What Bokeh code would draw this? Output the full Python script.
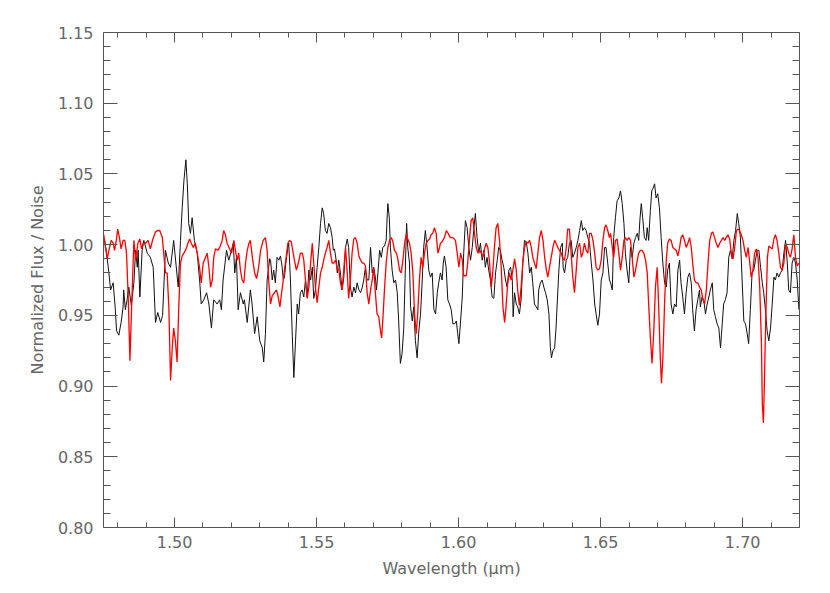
from bokeh.plotting import figure
from bokeh.models import (LinearAxis, FixedTicker, Range1d,
                          CustomJSTickFormatter, PrintfTickFormatter)
from bokeh.embed import file_html
from bokeh.resources import INLINE

# ---- axis ranges / ticks / labels ----
x_limits = [1.475, 1.72]
y_limits = [0.80, 1.15]
x_major = [1.50, 1.55, 1.60, 1.65, 1.70]
x_minor = [1.48, 1.49, 1.51, 1.52, 1.53, 1.54, 1.56, 1.57, 1.58, 1.59,
           1.61, 1.62, 1.63, 1.64, 1.66, 1.67, 1.68, 1.69, 1.71, 1.72]
y_major = [0.80, 0.85, 0.90, 0.95, 1.00, 1.05, 1.10, 1.15]
y_minor = [0.81, 0.82, 0.83, 0.84, 0.86, 0.87, 0.88, 0.89, 0.91, 0.92,
           0.93, 0.94, 0.96, 0.97, 0.98, 0.99, 1.01, 1.02, 1.03, 1.04,
           1.06, 1.07, 1.08, 1.09, 1.11, 1.12, 1.13, 1.14]
x_title = "Wavelength (μm)"
y_title = "Normalized Flux / Noise"

# ---- observed spectrum (black) ----
black_wl = [
    1.4754, 1.4761, 1.4769, 1.4775, 1.4784, 1.4791, 1.4796, 1.4804, 1.4812, 1.4819,
    1.4821, 1.4827, 1.4833, 1.4839, 1.4848, 1.4857, 1.4863, 1.4869, 1.4872, 1.4878,
    1.4886, 1.4892, 1.4904, 1.4915, 1.4925, 1.4933, 1.4941, 1.4951, 1.4958, 1.4968,
    1.4978, 1.4986, 1.4997, 1.5013, 1.5021, 1.5027, 1.5033, 1.5040, 1.5045, 1.5050,
    1.5056, 1.5062, 1.5070, 1.5080, 1.5089, 1.5094, 1.5103, 1.5113, 1.5121, 1.5130,
    1.5138, 1.5150, 1.5159, 1.5165, 1.5171, 1.5183, 1.5191, 1.5207, 1.5212, 1.5218,
    1.5224, 1.5232, 1.5242, 1.5246, 1.5256, 1.5267, 1.5273, 1.5282, 1.5291, 1.5300,
    1.5309, 1.5314, 1.5320, 1.5326, 1.5335,
    1.5338, 1.5344, 1.5349, 1.5355, 1.5361, 1.5367, 1.5373, 1.5379, 1.5383, 1.5387,
    1.5393, 1.5399, 1.5402, 1.5408, 1.5414, 1.5420, 1.5426, 1.5432, 1.5437, 1.5443,
    1.5449, 1.5455, 1.5461, 1.5467, 1.5473, 1.5479, 1.5485, 1.5490, 1.5496, 1.5502,
    1.5508, 1.5514, 1.5520, 1.5525, 1.5531, 1.5537, 1.5543, 1.5549, 1.5555, 1.5559,
    1.5563, 1.5569, 1.5573, 1.5578, 1.5584, 1.5590, 1.5596, 1.5602, 1.5608, 1.5613,
    1.5619, 1.5625, 1.5631, 1.5637, 1.5643, 1.5649, 1.5655, 1.5661, 1.5666, 1.5672,
    1.5678, 1.5684, 1.5690, 1.5696, 1.5701, 1.5707, 1.5711, 1.5716, 1.5722, 1.5728,
    1.5733, 1.5739, 1.5745, 1.5749, 1.5751, 1.5756, 1.5760, 1.5766, 1.5772, 1.5778,
    1.5784, 1.5789, 1.5795, 1.5801, 1.5807, 1.5813, 1.5817, 1.5821, 1.5827, 1.5831,
    1.5837, 1.5842, 1.5848, 1.5854, 1.5860, 1.5866, 1.5872, 1.5877, 1.5883, 1.5889,
    1.5895, 1.5901, 1.5907, 1.5913, 1.5919, 1.5925, 1.5930,
    1.5936, 1.5942, 1.5946, 1.5950, 1.5956, 1.5962, 1.5968, 1.5974, 1.5980, 1.5986,
    1.5992, 1.5997, 1.6001, 1.6007, 1.6013, 1.6018, 1.6024, 1.6030, 1.6036, 1.6042,
    1.6048, 1.6053, 1.6059, 1.6065, 1.6071, 1.6077, 1.6083, 1.6089, 1.6094, 1.6100,
    1.6106, 1.6112, 1.6118, 1.6124, 1.6130, 1.6136, 1.6141, 1.6147, 1.6153, 1.6159,
    1.6165, 1.6171, 1.6177, 1.6183, 1.6189, 1.6192, 1.6197, 1.6203, 1.6208, 1.6214,
    1.6220, 1.6226, 1.6232, 1.6238, 1.6244, 1.6250, 1.6256, 1.6261, 1.6267, 1.6273,
    1.6279, 1.6282, 1.6288, 1.6294, 1.6300, 1.6306, 1.6312, 1.6318, 1.6323, 1.6327,
    1.6332, 1.6338, 1.6343, 1.6347, 1.6353, 1.6359, 1.6365, 1.6368, 1.6373, 1.6379,
    1.6384, 1.6390, 1.6396, 1.6402, 1.6408, 1.6414, 1.6420, 1.6426, 1.6432, 1.6437,
    1.6443, 1.6449, 1.6455, 1.6461, 1.6467, 1.6473, 1.6479, 1.6484, 1.6490, 1.6496,
    1.6502, 1.6508, 1.6514, 1.6519, 1.6525, 1.6531,
    1.6535, 1.6541, 1.6546, 1.6552, 1.6558, 1.6564, 1.6570, 1.6576, 1.6582, 1.6587,
    1.6593, 1.6599, 1.6605, 1.6611, 1.6617, 1.6623, 1.6629, 1.6634, 1.6638, 1.6643,
    1.6648, 1.6654, 1.6660, 1.6664, 1.6669, 1.6675, 1.6680, 1.6685, 1.6690, 1.6695,
    1.6701, 1.6707, 1.6713, 1.6719, 1.6725, 1.6731, 1.6736, 1.6742, 1.6748, 1.6754,
    1.6760, 1.6766, 1.6772, 1.6778, 1.6783, 1.6789, 1.6795, 1.6801, 1.6807, 1.6813,
    1.6819, 1.6824, 1.6830, 1.6836, 1.6842, 1.6848, 1.6851, 1.6857, 1.6863, 1.6869,
    1.6875, 1.6881, 1.6886, 1.6893, 1.6898, 1.6904, 1.6910, 1.6916, 1.6922, 1.6928,
    1.6933, 1.6939, 1.6945, 1.6951, 1.6957, 1.6963, 1.6969, 1.6975, 1.6981, 1.6986,
    1.6992, 1.6998, 1.7004, 1.7010, 1.7016, 1.7021, 1.7027, 1.7033, 1.7039, 1.7045,
    1.7051, 1.7057, 1.7063, 1.7069, 1.7074, 1.7080, 1.7086, 1.7092, 1.7098, 1.7104,
    1.7110, 1.7115, 1.7121, 1.7127, 1.7133, 1.7139, 1.7145, 1.7151, 1.7157, 1.7162,
    1.7168, 1.7174, 1.7180, 1.7186, 1.7192, 1.7198,
]
black_flux = [
    1.003, 0.994, 0.980, 0.968, 0.973, 0.956, 0.939, 0.936, 0.945, 0.956,
    0.968, 0.954, 0.961, 0.970, 0.957, 0.973, 0.996, 0.984, 0.996, 0.963,
    0.996, 1.003, 0.994, 0.991, 0.984, 0.945, 0.952, 0.945, 0.950, 0.996,
    0.987, 0.984, 1.003, 0.970, 1.003, 1.026, 1.045, 1.060, 1.043, 1.015,
    1.008, 1.019, 1.003, 0.994, 0.973, 0.958, 0.961, 0.966, 0.958, 0.941,
    0.961, 0.958, 0.961, 0.954, 0.975, 0.996, 0.989, 1.001, 0.980, 0.991,
    0.954, 0.966, 0.958, 0.961, 0.945, 0.968, 0.958, 0.937, 0.949, 0.932,
    0.927, 0.917, 0.937, 0.975, 0.990,
    0.989, 0.975, 0.982, 0.973, 0.991, 0.989, 0.992, 0.984, 0.975, 0.977,
    0.989, 0.998, 1.001, 0.975, 0.939, 0.906, 0.932, 0.958, 0.951, 0.966,
    0.968, 0.963, 0.975, 0.963, 0.982, 0.975, 0.984, 0.962, 0.968, 0.984,
    0.998, 1.015, 1.026, 1.022, 1.010, 1.008, 1.015, 1.012, 1.005, 0.996,
    0.997, 0.989, 0.980, 0.989, 0.980, 0.968, 0.977, 0.998, 1.004, 0.998,
    0.970, 0.963, 0.970, 0.966, 0.973, 0.968, 0.966, 0.970, 0.975, 0.984,
    0.975, 0.975, 0.998, 0.980, 0.984, 0.977, 0.968, 0.980, 0.996, 0.991,
    0.998, 0.999, 1.003, 1.022, 1.029, 1.019, 0.998, 0.982, 0.973, 0.975,
    0.966, 0.946, 0.916, 0.923, 0.941, 0.987, 1.015, 0.998, 0.987, 0.956,
    0.946, 0.956, 0.932, 0.920, 0.939, 0.951, 0.975, 0.998, 1.010, 0.998,
    0.982, 0.977, 0.980, 0.954, 0.951, 0.966, 0.973,
    0.980, 0.975, 0.987, 0.992, 0.984, 0.961, 0.958, 0.954, 0.944, 0.944,
    0.946, 0.937, 0.930, 0.946, 0.963, 0.994, 1.017, 1.012, 0.998, 0.989,
    0.998, 1.010, 1.022, 1.005, 0.994, 1.001, 0.989, 0.996, 0.984, 0.991,
    0.982, 0.975, 0.963, 0.962, 0.980, 0.989, 0.998, 0.996, 0.989, 0.984,
    0.975, 0.970, 0.982, 0.984, 0.975, 0.949, 0.966, 0.958, 0.956, 0.951,
    0.961, 0.987, 1.003, 1.002, 0.994, 0.980, 0.984, 0.973, 0.958, 0.956,
    0.954, 0.968, 0.973, 0.975, 0.970, 0.966, 0.961, 0.951, 0.927, 0.920,
    0.925, 0.927, 0.941, 0.958, 0.982, 0.998, 1.001, 0.984, 0.980, 0.989,
    0.991, 1.001, 1.003, 0.991, 0.994, 0.998, 1.003, 1.010, 1.017, 1.010,
    1.012, 1.010, 1.005, 1.001, 0.987, 0.975, 0.958, 0.951, 0.943, 0.951,
    0.975, 0.980, 0.998, 0.998, 0.987, 0.975,
    0.973, 0.968, 1.005, 1.019, 1.031, 1.033, 1.038, 1.029, 1.015, 0.994,
    0.982, 0.973, 0.998, 0.991, 1.001, 1.005, 1.008, 1.003, 1.017, 1.029,
    1.019, 1.005, 1.003, 1.012, 1.003, 1.024, 1.038, 1.040, 1.043, 1.033,
    1.036, 1.026, 1.005, 0.987, 0.973, 0.970, 0.982, 0.987, 0.958, 0.951,
    0.958, 0.956, 0.982, 0.989, 0.973, 0.963, 0.951, 0.966, 0.977, 0.980,
    0.973, 0.954, 0.939, 0.954, 0.961, 0.968, 0.956, 0.963, 0.961, 0.951,
    0.958, 0.963, 0.968, 0.973, 0.954, 0.949, 0.944, 0.941, 0.927, 0.944,
    0.958, 0.961, 0.966, 0.991, 0.996, 0.990, 1.003, 1.010, 1.022, 1.015,
    1.005, 0.975, 0.946, 0.944, 0.937, 0.930, 0.954, 0.980, 0.982, 0.989,
    0.996, 0.996, 0.984, 0.973, 0.966, 0.954, 0.939, 0.932, 0.941, 0.958,
    0.977, 0.975, 0.980, 0.977, 0.980, 0.982, 0.994, 1.003, 0.987, 0.968,
    0.966, 0.987, 0.991, 0.987, 0.975, 0.954,
]

# ---- model spectrum (red) ----
red_wl = [
    1.4751, 1.4757, 1.4763, 1.4769, 1.4777, 1.4784, 1.4789, 1.4795, 1.4800, 1.4806,
    1.4812, 1.4819, 1.4825, 1.4831, 1.4837, 1.4843, 1.4849, 1.4857, 1.4863, 1.4871,
    1.4878, 1.4884, 1.4890, 1.4898, 1.4907, 1.4915, 1.4924, 1.4933, 1.4941, 1.4948,
    1.4957, 1.4962, 1.4968, 1.4974, 1.4980, 1.4986, 1.4992, 1.4997, 1.5003, 1.5009,
    1.5015, 1.5021, 1.5027, 1.5033, 1.5041, 1.5047, 1.5053, 1.5059, 1.5066, 1.5073,
    1.5080, 1.5088, 1.5094, 1.5101, 1.5107, 1.5115, 1.5121, 1.5127, 1.5133, 1.5138,
    1.5144, 1.5152, 1.5159, 1.5168, 1.5173, 1.5179, 1.5185, 1.5192, 1.5201, 1.5209,
    1.5216, 1.5221, 1.5226, 1.5232, 1.5238, 1.5244, 1.5250, 1.5256, 1.5262, 1.5267,
    1.5274, 1.5282, 1.5289, 1.5296, 1.5303, 1.5312, 1.5320, 1.5326, 1.5332,
    1.5338, 1.5344, 1.5352, 1.5359, 1.5364, 1.5371, 1.5377, 1.5383, 1.5388, 1.5393,
    1.5399, 1.5405, 1.5411, 1.5416, 1.5422, 1.5429, 1.5436, 1.5443, 1.5450, 1.5455,
    1.5461, 1.5467, 1.5473, 1.5479, 1.5485, 1.5490, 1.5496, 1.5502, 1.5508, 1.5514,
    1.5520, 1.5525, 1.5531, 1.5537, 1.5543, 1.5549, 1.5555, 1.5561, 1.5567, 1.5573,
    1.5578, 1.5584, 1.5590, 1.5596, 1.5602, 1.5608, 1.5613, 1.5619, 1.5625, 1.5631,
    1.5637, 1.5643, 1.5649, 1.5655, 1.5661, 1.5666, 1.5672, 1.5678, 1.5684, 1.5690,
    1.5696, 1.5701, 1.5707, 1.5713, 1.5719, 1.5725, 1.5729, 1.5733, 1.5739, 1.5745,
    1.5751, 1.5757, 1.5763, 1.5769, 1.5774, 1.5781, 1.5786, 1.5792, 1.5798, 1.5804,
    1.5810, 1.5816, 1.5821, 1.5827, 1.5833, 1.5839, 1.5845, 1.5851, 1.5856, 1.5862,
    1.5868, 1.5874, 1.5880, 1.5886, 1.5892, 1.5898, 1.5903, 1.5909, 1.5915, 1.5921,
    1.5927, 1.5933,
    1.5936, 1.5942, 1.5950, 1.5957, 1.5963, 1.5971, 1.5980, 1.5989, 1.5995, 1.6001,
    1.6007, 1.6013, 1.6018, 1.6027, 1.6032, 1.6038, 1.6044, 1.6050, 1.6056, 1.6062,
    1.6068, 1.6074, 1.6080, 1.6085, 1.6091, 1.6097, 1.6103, 1.6109, 1.6115, 1.6120,
    1.6126, 1.6132, 1.6138, 1.6144, 1.6150, 1.6156, 1.6162, 1.6167, 1.6173, 1.6179,
    1.6185, 1.6191, 1.6197, 1.6203, 1.6208, 1.6214, 1.6220, 1.6226, 1.6232, 1.6238,
    1.6244, 1.6250, 1.6256, 1.6261, 1.6267, 1.6273, 1.6279, 1.6285, 1.6291, 1.6297,
    1.6303, 1.6309, 1.6314, 1.6320, 1.6326, 1.6332, 1.6338, 1.6343, 1.6349, 1.6355,
    1.6361, 1.6367, 1.6373, 1.6379, 1.6384, 1.6390, 1.6396, 1.6402, 1.6408, 1.6414,
    1.6420, 1.6426, 1.6432, 1.6437, 1.6443, 1.6449, 1.6455, 1.6461, 1.6467, 1.6473,
    1.6479, 1.6484, 1.6490, 1.6496, 1.6502, 1.6508, 1.6514, 1.6519, 1.6525, 1.6531,
    1.6535, 1.6541, 1.6546, 1.6552, 1.6558, 1.6564, 1.6570, 1.6576, 1.6582, 1.6587,
    1.6593, 1.6599, 1.6605, 1.6611, 1.6617, 1.6623, 1.6629, 1.6634, 1.6640, 1.6646,
    1.6652, 1.6658, 1.6664, 1.6669, 1.6675, 1.6681, 1.6687, 1.6693, 1.6699, 1.6704,
    1.6710, 1.6714, 1.6719, 1.6725, 1.6731, 1.6736, 1.6742, 1.6748, 1.6754, 1.6760,
    1.6766, 1.6772, 1.6778, 1.6783, 1.6789, 1.6795, 1.6801, 1.6807, 1.6813, 1.6819,
    1.6824, 1.6830, 1.6836, 1.6842, 1.6848, 1.6854, 1.6860, 1.6866, 1.6872, 1.6878,
    1.6884, 1.6890, 1.6895, 1.6901, 1.6907, 1.6913, 1.6919, 1.6925, 1.6931, 1.6937,
    1.6942, 1.6948, 1.6954, 1.6960, 1.6966, 1.6972, 1.6978, 1.6983, 1.6989, 1.6995,
    1.7001, 1.7007, 1.7013, 1.7019, 1.7024, 1.7030, 1.7036, 1.7042, 1.7048, 1.7054,
    1.7060, 1.7066, 1.7069, 1.7073, 1.7076, 1.7081, 1.7087, 1.7092, 1.7098, 1.7104,
    1.7110, 1.7115, 1.7121, 1.7127, 1.7133, 1.7139, 1.7145, 1.7151, 1.7157, 1.7162,
    1.7168, 1.7174, 1.7180, 1.7186, 1.7192, 1.7198,
]
red_flux = [
    1.007, 0.998, 0.990, 0.996, 1.003, 1.001, 0.996, 1.003, 1.011, 1.005,
    0.997, 1.003, 1.003, 0.994, 0.963, 0.918, 0.956, 1.003, 0.989, 1.001,
    1.004, 0.997, 1.001, 1.001, 1.003, 0.997, 1.004, 1.009, 1.010, 1.010,
    1.005, 0.994, 0.980, 0.980, 0.956, 0.904, 0.927, 0.941, 0.932, 0.917,
    0.956, 0.987, 0.992, 0.994, 0.997, 1.001, 1.004, 1.001, 0.998, 1.001,
    0.994, 0.984, 0.973, 0.987, 0.990, 0.994, 0.984, 0.970, 0.975, 0.991,
    0.997, 0.996, 0.998, 1.003, 1.010, 1.007, 1.001, 0.998, 0.994, 1.003,
    0.994, 0.989, 0.994, 0.982, 0.975, 0.973, 0.987, 0.996, 1.001, 1.003,
    0.991, 0.980, 0.976, 0.984, 0.996, 1.003, 1.005, 0.996, 0.973,
    0.958, 0.964, 0.966, 0.968, 0.964, 0.956, 0.966, 0.975, 0.984, 0.991,
    1.001, 1.003, 1.002, 0.996, 0.989, 0.982, 0.987, 0.994, 0.994, 0.989,
    0.975, 0.962, 0.970, 0.987, 1.001, 0.987, 0.970, 0.959, 0.970, 0.980,
    0.984, 0.989, 0.994, 0.998, 1.003, 0.994, 0.987, 0.987, 0.989, 0.982,
    0.983, 0.973, 0.968, 0.983, 0.998, 0.980, 0.962, 0.975, 0.994, 1.004,
    1.005, 1.001, 0.992, 0.989, 0.987, 0.987, 0.985, 0.966, 0.958, 0.968,
    0.975, 0.984, 0.966, 0.951, 0.949, 0.939, 0.934, 0.946, 0.968, 0.987,
    0.998, 1.003, 1.005, 1.002, 0.996, 0.994, 0.990, 0.982, 0.980, 0.989,
    1.001, 1.008, 1.004, 1.001, 0.994, 0.980, 0.951, 0.937, 0.951, 0.975,
    0.991, 0.984, 0.994, 1.001, 1.003, 1.004, 1.007, 1.008, 1.012, 1.008,
    0.994, 0.998,
    1.001, 1.002, 1.005, 1.010, 1.008, 1.005, 1.005, 1.003, 0.994, 0.984,
    0.994, 0.989, 0.978, 0.978, 0.987, 1.003, 1.017, 1.019, 1.008, 0.998,
    0.994, 0.996, 0.994, 0.991, 0.997, 1.001, 0.998, 0.987, 0.970, 0.980,
    0.998, 1.012, 1.015, 1.003, 0.984, 0.956, 0.945, 0.956, 0.973, 0.980,
    0.975, 0.982, 0.990, 0.982, 0.968, 0.957, 0.970, 0.987, 0.998, 1.002,
    1.001, 1.003, 0.998, 0.991, 0.987, 0.983, 0.994, 1.005, 1.010, 1.003,
    0.991, 0.982, 0.977, 0.984, 0.991, 0.998, 1.003, 1.001, 0.998, 0.996,
    0.994, 0.990, 0.989, 0.998, 1.011, 1.011, 0.994, 0.977, 0.966, 0.982,
    0.998, 1.001, 0.991, 0.994, 1.001, 0.996, 0.994, 1.008, 1.008, 1.003,
    0.994, 0.984, 0.982, 0.983, 0.989, 1.003, 1.012, 1.014, 1.010, 1.005,
    1.008, 0.998, 0.991, 1.003, 1.004, 0.994, 0.982, 0.991, 1.003, 1.005,
    1.003, 1.005, 1.003, 0.991, 0.977, 0.982, 0.989, 0.994, 0.996, 0.996,
    0.994, 0.989, 0.980, 0.958, 0.934, 0.916, 0.939, 0.970, 0.984, 0.958,
    0.920, 0.902, 0.920, 0.958, 0.989, 1.001, 1.004, 1.003, 0.998, 0.997,
    0.996, 0.992, 0.998, 1.005, 1.007, 1.003, 0.998, 1.001, 1.005, 0.998,
    0.987, 0.975, 0.973, 0.973, 0.970, 0.968, 0.961, 0.958, 0.968, 0.987,
    1.003, 1.008, 1.009, 1.005, 1.001, 0.998, 1.001, 1.003, 1.005, 1.003,
    1.005, 1.007, 1.004, 0.994, 0.990, 0.998, 1.010, 1.011, 1.010, 1.007,
    1.003, 0.996, 0.991, 0.998, 0.989, 0.977, 0.982, 0.994, 0.997, 0.991,
    0.970, 0.930, 0.888, 0.874, 0.899, 0.946, 0.991, 0.999, 0.998, 0.997,
    1.004, 1.007, 1.003, 0.994, 0.984, 0.982, 0.987, 1.001, 0.998, 0.994,
    0.991, 0.997, 1.007, 0.991, 0.985, 0.987,
]

assert len(black_wl) == len(black_flux), (len(black_wl), len(black_flux))
assert len(red_wl) == len(red_flux), (len(red_wl), len(red_flux))

AXIS_COLOR = "#555555"
TEXT_COLOR = "#666666"
FONT = "DejaVu Sans"

p = figure(width=822, height=585, output_backend="svg", toolbar_location=None,
           x_range=Range1d(*x_limits), y_range=Range1d(*y_limits),
           min_border_left=103, min_border_right=23,
           min_border_top=32, min_border_bottom=58,
           x_axis_label=x_title, y_axis_label=y_title)
p.background_fill_color = "white"
p.border_fill_color = "white"
p.outline_line_color = None
p.grid.visible = False

p.line(black_wl, black_flux, line_color="#111111", line_width=1.0)
p.line(red_wl, red_flux, line_color="#ff0000", line_width=1.3)


def style_axis(ax, major_len, minor_len, labels=True):
    ax.axis_line_color = AXIS_COLOR
    ax.axis_line_width = 1
    ax.major_tick_line_color = AXIS_COLOR
    ax.minor_tick_line_color = AXIS_COLOR
    ax.major_tick_in = major_len
    ax.major_tick_out = 0
    ax.minor_tick_in = minor_len
    ax.minor_tick_out = 0
    ax.major_label_text_font = FONT
    ax.major_label_text_font_size = "16px"
    ax.major_label_text_color = TEXT_COLOR
    ax.axis_label_text_font = FONT
    ax.axis_label_text_font_size = "16px"
    ax.axis_label_text_font_style = "normal"
    ax.axis_label_text_color = TEXT_COLOR
    if not labels:
        ax.formatter = CustomJSTickFormatter(code="return '';")
        ax.major_label_standoff = 0
    else:
        ax.formatter = PrintfTickFormatter(format="%.2f")


p.xaxis.ticker = FixedTicker(ticks=x_major, minor_ticks=x_minor)
p.yaxis.ticker = FixedTicker(ticks=y_major, minor_ticks=y_minor)
style_axis(p.xaxis[0], 10, 5)
style_axis(p.yaxis[0], 14, 7)
p.xaxis[0].major_label_standoff = 8
p.xaxis[0].axis_label_standoff = 8
p.yaxis[0].major_label_standoff = 10
p.yaxis[0].axis_label_standoff = 8

top_axis = LinearAxis(ticker=FixedTicker(ticks=x_major, minor_ticks=x_minor))
style_axis(top_axis, 10, 5, labels=False)
p.add_layout(top_axis, "above")

right_axis = LinearAxis(ticker=FixedTicker(ticks=y_major, minor_ticks=y_minor))
style_axis(right_axis, 14, 7, labels=False)
p.add_layout(right_axis, "right")

open("out.html", "w").write(file_html(p, INLINE))
